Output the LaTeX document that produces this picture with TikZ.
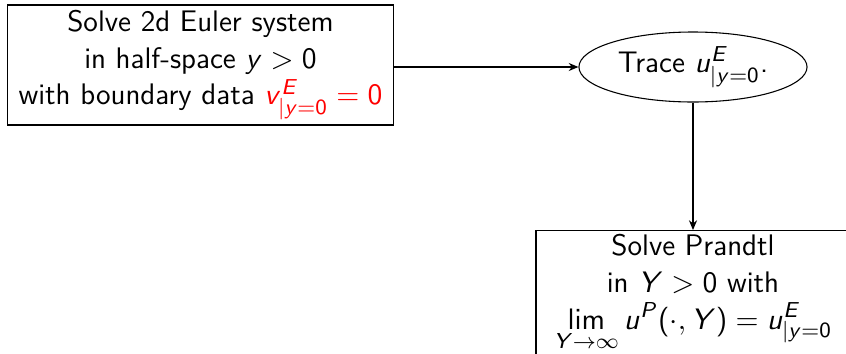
\documentclass[tikz,border=0pt]{standalone}
\usetikzlibrary{shapes.geometric,arrows.meta}
% sans-serif mathematics: digits, operators and the letters used below
\DeclareSymbolFont{sfletters}{OT1}{cmss}{m}{sl}
\SetSymbolFont{operators}{normal}{OT1}{cmss}{m}{n}
\DeclareMathSymbol{u}{\mathalpha}{sfletters}{`u}
\DeclareMathSymbol{v}{\mathalpha}{sfletters}{`v}
\DeclareMathSymbol{y}{\mathalpha}{sfletters}{`y}
\DeclareMathSymbol{E}{\mathalpha}{sfletters}{`E}
\DeclareMathSymbol{P}{\mathalpha}{sfletters}{`P}
\DeclareMathSymbol{Y}{\mathalpha}{sfletters}{`Y}
\tikzset{
  txt/.style={font=\fontsize{11}{13.6}\selectfont\sffamily, align=center, draw, line width=0.4pt},
  stepbox/.style={txt, rectangle, inner sep=0pt},
  tracebox/.style={txt, ellipse, inner sep=0pt},
  link/.style={-{Stealth[length=3.6pt,width=3pt]}, line width=0.4pt}
}
\begin{document}
\begin{tikzpicture}[x=0.37pt,y=-0.37pt]
  \useasboundingbox (0,0) rectangle (846,354);
  \clip (0,0) rectangle (846,354);
  \node[stepbox, minimum width=142.6pt, minimum height=44.4pt] (euler) at (200.5,65)
    {Solve 2d Euler system\\ in half-space $y>0$\\ with boundary data \textcolor{red}{$v^E_{|y=0}=0$}};
  \node[tracebox, minimum width=84.4pt, minimum height=25.9pt] (trace) at (693,67)
    {Trace $u^E_{|y=0}$.};
  \node[stepbox, anchor=north, minimum width=116.2pt, inner ysep=1.5pt, text depth=14.4pt] (prandtl) at (693,230)
    {Solve Prandtl\\ in $Y>0$ with\\ $\displaystyle\lim_{Y\to\infty} u^P(\cdot,Y)=u^E_{|y=0}$};
  \draw[link] (euler.east |- trace.west) -- (trace.west);
  \draw[link] (trace.south) -- (prandtl.north);
\end{tikzpicture}
\end{document}
